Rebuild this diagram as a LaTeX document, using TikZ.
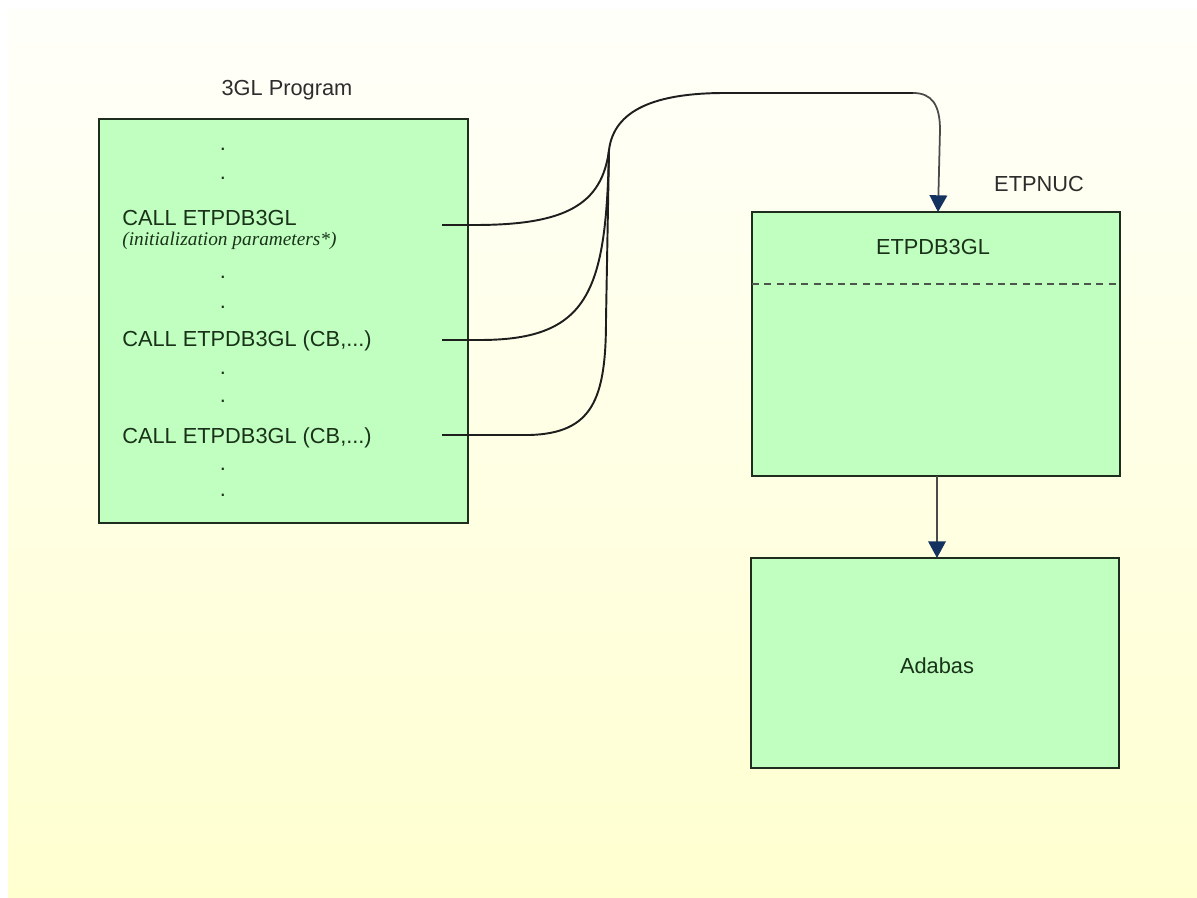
\documentclass[tikz,border=0pt]{standalone}
\usepackage{fontspec}
\setmainfont{Liberation Sans}
\newfontfamily\serifit{Liberation Serif}
\usetikzlibrary{arrows.meta}
\definecolor{boxfill}{RGB}{192,255,192}
\definecolor{boxline}{RGB}{30,45,30}
\definecolor{boxtext}{RGB}{25,50,25}
\definecolor{lbltext}{RGB}{45,45,45}
\definecolor{arrowblue}{RGB}{20,50,95}
\definecolor{wireclr}{RGB}{30,30,30}
\definecolor{bgtop}{RGB}{255,255,250}
\definecolor{bgbot}{RGB}{255,255,208}
\tikzset{
  box/.style={draw=boxline, fill=boxfill, line width=1.4pt},
  boxtxt/.style={inner sep=0pt, text=boxtext, font=\fontsize{12.4}{15}\selectfont},
  lbl/.style={inner sep=0pt, text=lbltext, font=\fontsize{12.4}{15}\selectfont},
  dotn/.style={inner sep=0pt, anchor=base, text=boxtext, font=\fontsize{12.4}{15}\selectfont},
  wire/.style={draw=wireclr, line width=1.1pt},
  arr/.style={draw=wireclr!80, line width=1pt, -{Triangle[width=10pt,length=9.5pt,color=arrowblue]}},
}
\begin{document}
\begin{tikzpicture}[x=0.02cm, y=-0.02cm]
\useasboundingbox (0,0) rectangle (1197,898);
\fill[white] (0,0) rectangle (1197,898);
\shade[top color=bgtop, bottom color=bgbot] (8,10) rectangle (1197,897);

% boxes
\draw[box] (99,119) rectangle (468,523);
\draw[box] (752,212) rectangle (1120,476);
\draw[boxline!80, line width=1.1pt, dash pattern=on 4pt off 3pt] (752,284) -- (1120,284);
\draw[box] (751,558) rectangle (1119,768);

\coordinate (nucTop) at (938,212);
\coordinate (nucBot) at (937,476);
\coordinate (adaTop) at (937,558);

% labels
\node[lbl, anchor=base] (lprog) at (287,96) {3GL Program};
\node[lbl, anchor=base] (lnuc) at (1039,192) {ETPNUC};
\node[boxtxt, anchor=base] (ltp) at (933,255) {ETPDB3GL};
\node[boxtxt, anchor=base] (lada) at (937,673) {Adabas};

% program text
\node[dotn] (d1) at (223,151) {.};
\node[dotn] (d2) at (223,180) {.};
\node[boxtxt, anchor=base west] (c1) at (122,226) {CALL ETPDB3GL};
\node[inner sep=0pt, anchor=base west, text=boxtext, font=\serifit\itshape\fontsize{11}{13}\selectfont] (c1p) at (122,246) {(initialization parameters*)};
\node[dotn] (d3) at (223,279) {.};
\node[dotn] (d4) at (223,309) {.};
\node[boxtxt, anchor=base west] (c2) at (122,347) {CALL ETPDB3GL (CB,...)};
\node[dotn] (d5) at (223,375) {.};
\node[dotn] (d6) at (223,403) {.};
\node[boxtxt, anchor=base west] (c3) at (122,443) {CALL ETPDB3GL (CB,...)};
\node[dotn] (d7) at (223,471) {.};
\node[dotn] (d8) at (223,497) {.};

% wires
\coordinate (s1) at (442,225);
\coordinate (s2) at (442,340);
\coordinate (s3) at (442,435);
\coordinate (m) at (609,150);
\coordinate (t) at (725,93);
\draw[wire] (s1) -- (475,225) .. controls (565,225) and (602,205) .. (m);
\draw[wire] (s2) -- (480,340) .. controls (590,340) and (606,290) .. (m);
\draw[wire] (s3) -- (530,435) .. controls (592,433) and (606,400) .. (606,320) -- (m);
\draw[wire] (m) .. controls (614,110) and (655,93) .. (t) -- (913,93);
\draw[arr] (913,93) .. controls (932,93) and (940,105) .. (940,130) -- (nucTop);
\draw[arr] (nucBot) -- (adaTop);
\end{tikzpicture}
\end{document}
